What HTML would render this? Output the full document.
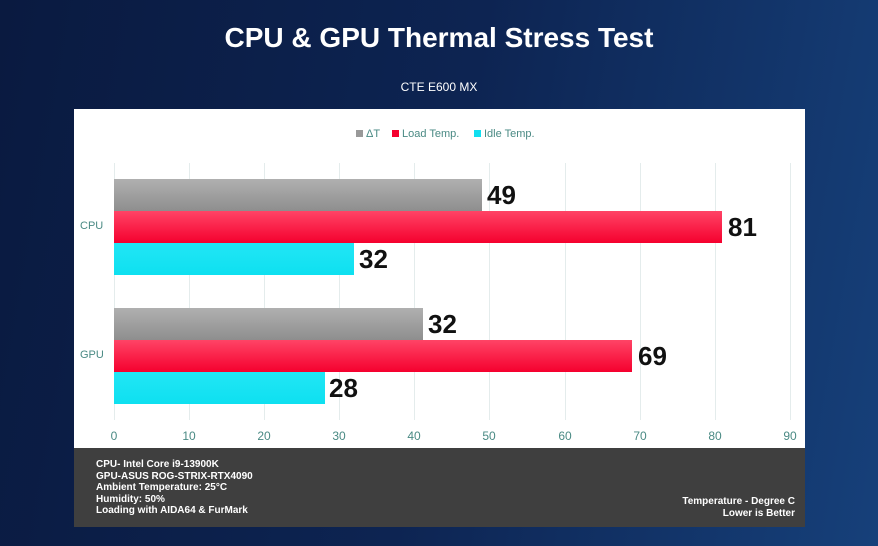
<!DOCTYPE html>
<html><head><meta charset="utf-8"><style>
body{margin:0;width:878px;height:546px;overflow:hidden;background:linear-gradient(100deg,#0a1a40 0%,#0d2452 50%,#16407a 100%);font-family:"Liberation Sans",sans-serif;position:relative}
.t{position:absolute;left:0;width:878px;text-align:center;color:#fff}
.panel{position:absolute;left:74px;top:109px;width:731px;height:339px;background:#fff}
.foot{position:absolute;left:74px;top:448px;width:731px;height:79px;background:#3f3f3f;color:#fff;font-weight:bold;font-size:10px}
.bar{position:absolute;left:114px;height:32px}
.g{background:linear-gradient(#b0b0b0,#8e8e8e)}
.r{background:linear-gradient(#ff4466,#f5002e)}
.c{background:linear-gradient(#22e6f5,#0ee0f0)}
.v{position:absolute;font-weight:bold;font-size:26px;color:#111;height:32px;line-height:32px}
.gl{position:absolute;top:163px;height:257px;width:1px;background:#e4ecec}
.tk{position:absolute;top:429px;width:30px;margin-left:-15px;text-align:center;color:#4a8a84;font-size:12px}
.cat{position:absolute;left:80px;color:#4a8a84;font-size:11px}
.lg{position:absolute;top:128px;font-size:11px;color:#4a8a84}
.sq{display:inline-block;width:7px;height:7px;margin-right:3px}
</style></head><body>
<div class="t" style="top:22px;font-size:28px;font-weight:bold">CPU &amp; GPU Thermal Stress Test</div>
<div class="t" style="top:80px;font-size:12px">CTE E600 MX</div>
<div class="panel"></div>
<div class="lg" style="left:356px"><span class="sq" style="background:#999"></span>ΔT</div>
<div class="lg" style="left:392px"><span class="sq" style="background:#f5002e"></span>Load Temp.</div>
<div class="lg" style="left:474px"><span class="sq" style="background:#10dff0"></span>Idle Temp.</div>
<div class="gl" style="left:114px"></div><div class="gl" style="left:189px"></div><div class="gl" style="left:264px"></div><div class="gl" style="left:339px"></div><div class="gl" style="left:414px"></div><div class="gl" style="left:489px"></div><div class="gl" style="left:565px"></div><div class="gl" style="left:640px"></div><div class="gl" style="left:715px"></div><div class="gl" style="left:790px"></div>
<div class="tk" style="left:114px">0</div><div class="tk" style="left:189px">10</div><div class="tk" style="left:264px">20</div><div class="tk" style="left:339px">30</div><div class="tk" style="left:414px">40</div><div class="tk" style="left:489px">50</div><div class="tk" style="left:565px">60</div><div class="tk" style="left:640px">70</div><div class="tk" style="left:715px">80</div><div class="tk" style="left:790px">90</div>
<div class="cat" style="top:220px">CPU</div>
<div class="cat" style="top:349px">GPU</div>
<div class="bar g" style="top:179px;width:368px"></div><div class="v" style="top:179px;left:487px">49</div>
<div class="bar r" style="top:211px;width:608px"></div><div class="v" style="top:211px;left:728px">81</div>
<div class="bar c" style="top:243px;width:240px"></div><div class="v" style="top:243px;left:359px">32</div>
<div class="bar g" style="top:308px;width:309px"></div><div class="v" style="top:308px;left:428px">32</div>
<div class="bar r" style="top:340px;width:518px"></div><div class="v" style="top:340px;left:638px">69</div>
<div class="bar c" style="top:372px;width:211px"></div><div class="v" style="top:372px;left:329px">28</div>
<div class="foot">
<div style="position:absolute;left:22px;top:11px;line-height:11.5px">CPU- Intel Core i9-13900K<br>GPU-ASUS ROG-STRIX-RTX4090<br>Ambient Temperature: 25°C<br>Humidity: 50%<br>Loading with AIDA64 &amp; FurMark</div>
<div style="position:absolute;right:10px;top:48px;line-height:12px;text-align:right">Temperature - Degree C<br>Lower is Better</div>
</div>
</body></html>
